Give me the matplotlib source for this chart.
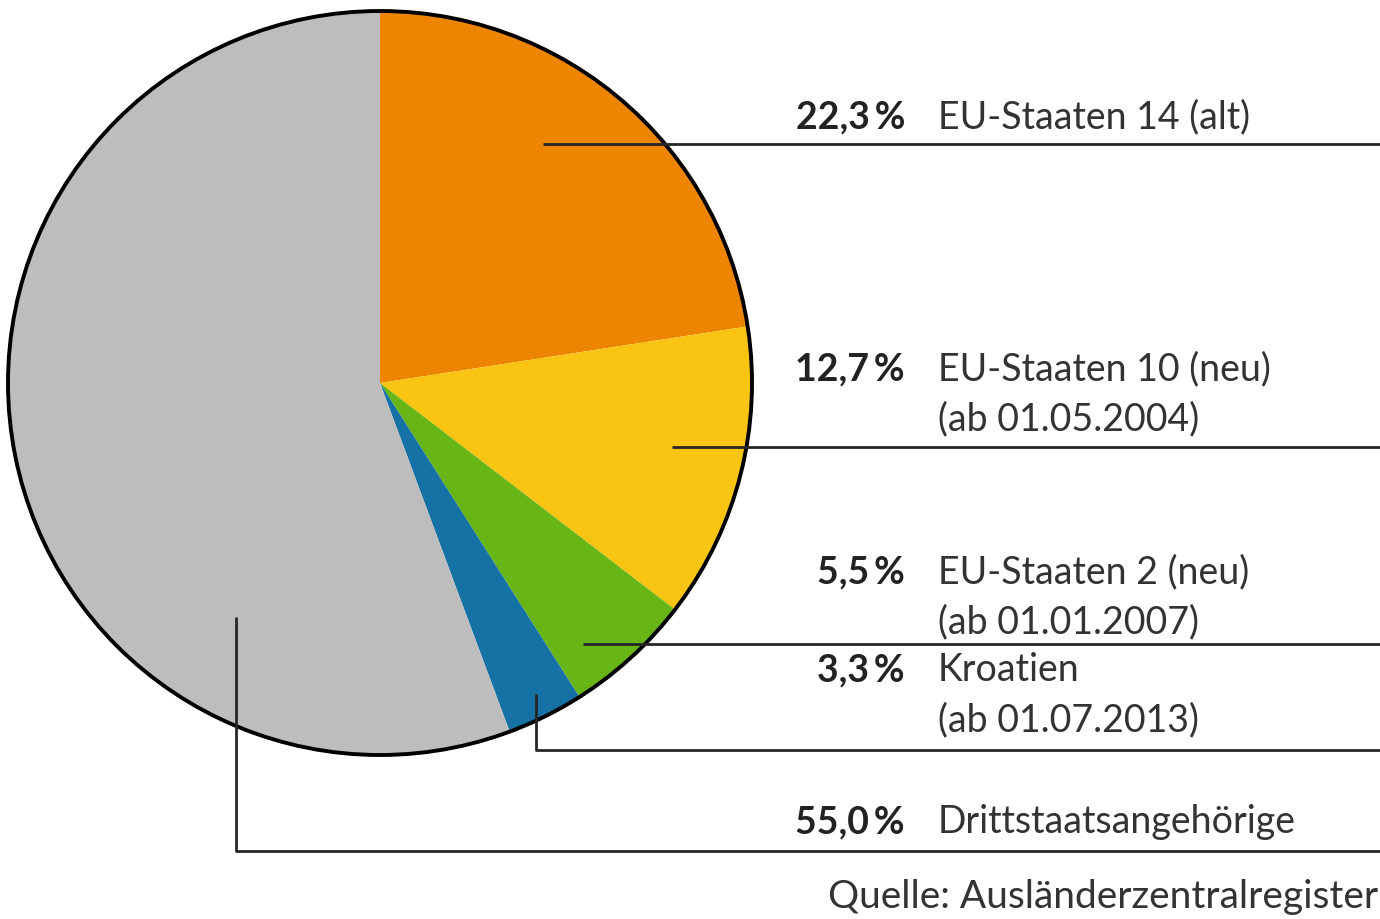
import matplotlib
matplotlib.use("Agg")
import matplotlib.pyplot as plt
from matplotlib.patches import Circle

categories = ["EU-Staaten 14 (alt)", "EU-Staaten 10 (neu)\n(ab 01.05.2004)",
              "EU-Staaten 2 (neu)\n(ab 01.01.2007)", "Kroatien\n(ab 01.07.2013)",
              "Drittstaatsangehörige"]
values = [22.3, 12.7, 5.5, 3.3, 55.0]
pct_labels = ["22,3\u2009%", "12,7\u2009%", "5,5\u2009%", "3,3\u2009%", "55,0\u2009%"]
colors = ["#EE8500", "#FAC412", "#68B516", "#1671A5", "#BDBDBD"]
source = "Quelle: Ausländerzentralregister"

W, H = 1380, 920
fig = plt.figure(figsize=(13.8, 9.2), dpi=100)
ax = fig.add_axes([0, 0, 1, 1])
ax.set_xlim(0, W)
ax.set_ylim(0, H)
ax.set_aspect("equal")
ax.axis("off")

cx, cy, r = 380, H - 384, 372
ax.pie(values, colors=colors, startangle=90, counterclock=False,
       center=(cx, cy), radius=r, wedgeprops=dict(linewidth=0))
ax.add_patch(Circle((cx, cy), r, fill=False, edgecolor="black", linewidth=2.8, zorder=5))
ax.set_xlim(0, W)
ax.set_ylim(0, H)

font = ["Lato", "DejaVu Sans"]
fs = 27
lc = "#262626"
lw = 2.0

# leader lines: (start x, start y) from top, y of horizontal part
leaders = [((543, 145), 145), ((672, 448), 448), ((583, 645), 645),
           ((536, 695), 751), ((236, 618), 852)]
text_y = [117, 369, 572, 670, 822]

for (sx, sy), hy in leaders:
    xs = [sx, sx, W]
    ys = [H - sy, H - hy, H - hy]
    ax.plot(xs, ys, color=lc, lw=lw, solid_capstyle="butt", zorder=6)

for i, (cat, pct) in enumerate(zip(categories, pct_labels)):
    y = H - text_y[i]
    ax.text(905, y, pct, ha="right", va="center", fontsize=fs, fontweight="bold",
            family=font, color="#222222")
    for j, ln in enumerate(cat.split("\n")):
        ax.text(938, y - j * 50, ln, ha="left", va="center", fontsize=fs,
                family=font, color="#333333")

ax.text(1378, H - 897, source, ha="right", va="center", fontsize=28,
        family=font, color="#333333")

fig.savefig("out.png", dpi=100)
